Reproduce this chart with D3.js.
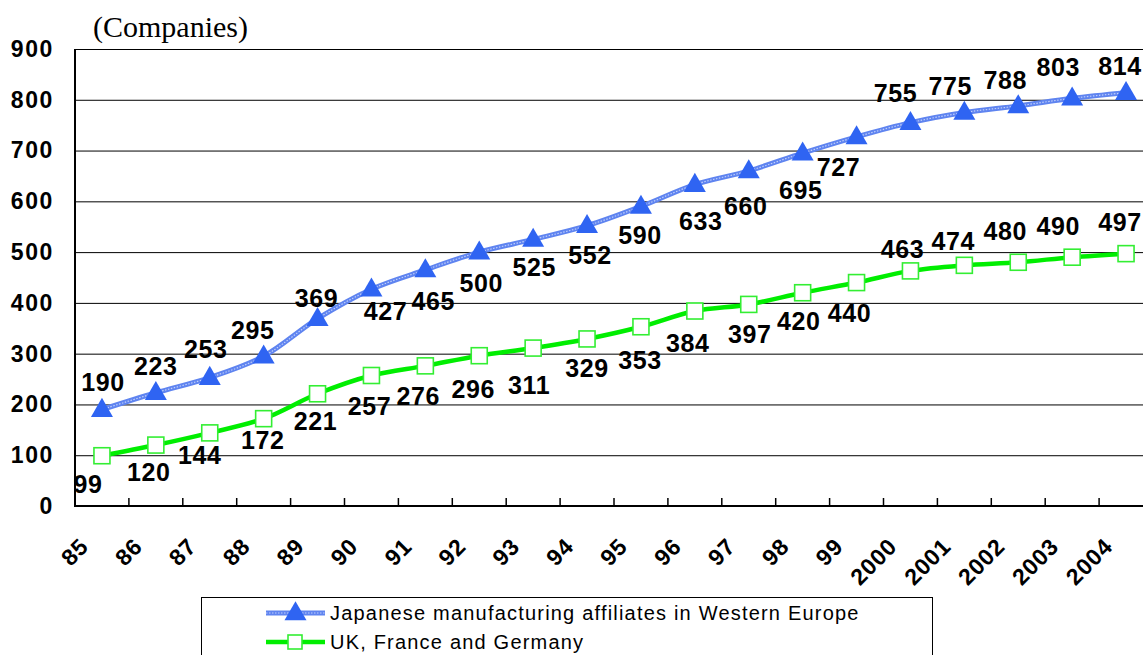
<!DOCTYPE html>
<html>
<head>
<meta charset="utf-8">
<script src="https://cdn.jsdelivr.net/npm/d3@7"></script>
<style>
  body { margin: 0; background: #fff; }
  svg { display: block; }
</style>
</head>
<body>
<div id="vis"></div>
<script>
const width = 1143;
const height = 655;

// data
const years = [1985, 1986, 1987, 1988, 1989, 1990, 1991, 1992, 1993, 1994,
  1995, 1996, 1997, 1998, 1999, 2000, 2001, 2002, 2003, 2004];
const tickLabels = ["85", "86", "87", "88", "89", "90", "91", "92", "93", "94",
  "95", "96", "97", "98", "99", "2000", "2001", "2002", "2003", "2004"];
const westernEurope = [190, 223, 253, 295, 369, 427, 465, 500, 525, 552,
  590, 633, 660, 695, 727, 755, 775, 788, 803, 814];
const ukFranceGermany = [99, 120, 144, 172, 221, 257, 276, 296, 311, 329,
  353, 384, 397, 420, 440, 463, 474, 480, 490, 497];
const yTicks = [0, 100, 200, 300, 400, 500, 600, 700, 800, 900];
const seriesNames = ["Japanese manufacturing affiliates in Western Europe", "UK, France and Germany"];

// where each value label sits relative to its point (layout only)
const blueLabelOffset = [[1,-28],[0,-27],[-4,-29],[-11,-26],[-1,-21],[14,22],[8,31],[2,31],[1,28],[3,29],
  [-1,29],[6,36],[-3,35],[-2,37],[-18,30],[-15,-30],[-14,-26],[-13,-26],[-14,-31],[-6,-27]];
const greenLabelOffset = [[-14,28],[-7,27],[-10,22],[-1,21],[-2,27],[-2,30],[-7,30],[-6,33],[-4,37],[0,29],
  [-1,33],[-7,32],[1,30],[-4,28],[-7,30],[-8,-22],[-11,-24],[-13,-31],[-14,-31],[-6,-32]];

const plot = { left: 75, right: 1153, top: 49, bottom: 506 };

const x = d3.scaleBand().domain(years).range([plot.left, plot.right]).padding(0);
const y = d3.scaleLinear().domain([0, 900]).range([plot.bottom, plot.top]);
const cx = d => x(d) + x.bandwidth() / 2;

const svg = d3.select("#vis").append("svg")
  .attr("width", width)
  .attr("height", height);

// gridlines
svg.append("g")
  .attr("transform", "translate(" + plot.left + ",0)")
  .call(d3.axisLeft(y).tickValues(yTicks).tickSize(-(plot.right - plot.left)).tickFormat(""))
  .call(g => g.select(".domain").remove())
  .call(g => g.selectAll("line").attr("stroke", "#000").attr("stroke-width", 1));

// y axis labels
svg.append("g")
  .attr("transform", "translate(" + plot.left + ",0)")
  .call(d3.axisLeft(y).tickValues(yTicks).tickSize(0).tickPadding(21))
  .call(g => g.select(".domain").remove())
  .call(g => g.selectAll("text")
    .attr("font-family", "'Liberation Sans', Arial, sans-serif")
    .attr("font-weight", "bold")
    .attr("font-size", 23)
    .attr("letter-spacing", 1.6)
    .attr("fill", "#000"));

// axis lines
svg.append("line")
  .attr("x1", plot.left).attr("x2", plot.left)
  .attr("y1", plot.top).attr("y2", plot.bottom + 1)
  .attr("stroke", "#000").attr("stroke-width", 2);
svg.append("line")
  .attr("x1", plot.left).attr("x2", plot.right)
  .attr("y1", plot.bottom).attr("y2", plot.bottom)
  .attr("stroke", "#000").attr("stroke-width", 2);

// inward category ticks
svg.append("g").selectAll("line")
  .data(years.slice(1))
  .enter().append("line")
  .attr("x1", d => x(d)).attr("x2", d => x(d))
  .attr("y1", plot.bottom).attr("y2", plot.bottom - 8)
  .attr("stroke", "#000").attr("stroke-width", 1.5);

// x labels
svg.append("g")
  .attr("transform", "translate(0," + plot.bottom + ")")
  .call(d3.axisBottom(x).tickSize(0).tickFormat((d, i) => tickLabels[i]))
  .call(g => g.select(".domain").remove())
  .call(g => g.selectAll(".tick text")
    .attr("font-family", "'Liberation Sans', Arial, sans-serif")
    .attr("font-weight", "bold")
    .attr("font-size", 23)
    .attr("letter-spacing", 0.8)
    .attr("fill", "#000")
    .attr("text-anchor", "end")
    .attr("y", 0).attr("dy", 0)
    .attr("transform", "translate(-12,42) rotate(-45)"));

const line = d3.line()
  .x((d, i) => cx(years[i]))
  .y(d => y(d))
  .curve(d3.curveCatmullRom.alpha(0.5));

// blue series
svg.append("path")
  .datum(westernEurope)
  .attr("d", line)
  .attr("fill", "none")
  .attr("stroke", "#5f84f0")
  .attr("stroke-width", 5);
svg.append("path")
  .datum(westernEurope)
  .attr("d", line)
  .attr("fill", "none")
  .attr("stroke", "#dfe7ff")
  .attr("stroke-opacity", 0.75)
  .attr("stroke-width", 1.2)
  .attr("stroke-dasharray", "1.5,1.5");

const tri = d3.symbol().type(d3.symbolTriangle).size(210);
svg.append("g").selectAll("path")
  .data(westernEurope)
  .enter().append("path")
  .attr("d", tri)
  .attr("transform", (d, i) => "translate(" + cx(years[i]) + "," + (y(d) + 1) + ")")
  .attr("fill", "#2f64f2");

// green series
svg.append("path")
  .datum(ukFranceGermany)
  .attr("d", line)
  .attr("fill", "none")
  .attr("stroke", "#00ee00")
  .attr("stroke-width", 4.5);

svg.append("g").selectAll("rect")
  .data(ukFranceGermany)
  .enter().append("rect")
  .attr("x", (d, i) => cx(years[i]) - 8)
  .attr("y", d => y(d) - 8)
  .attr("width", 16).attr("height", 16)
  .attr("fill", "#fff")
  .attr("stroke", "#33ee33")
  .attr("stroke-width", 1.6);

// value labels
const labelFont = sel => sel
  .attr("font-family", "'Liberation Sans', Arial, sans-serif")
  .attr("font-weight", "bold")
  .attr("font-size", 25)
  .attr("letter-spacing", 0.6)
  .attr("fill", "#000")
  .attr("text-anchor", "middle")
  .attr("dy", "0.36em");

svg.append("g").selectAll("text")
  .data(westernEurope)
  .enter().append("text")
  .attr("x", (d, i) => cx(years[i]) + blueLabelOffset[i][0])
  .attr("y", (d, i) => y(d) + blueLabelOffset[i][1])
  .text(d => d)
  .call(labelFont);

svg.append("g").selectAll("text")
  .data(ukFranceGermany)
  .enter().append("text")
  .attr("x", (d, i) => cx(years[i]) + greenLabelOffset[i][0])
  .attr("y", (d, i) => y(d) + greenLabelOffset[i][1])
  .text(d => d)
  .call(labelFont);

// unit
svg.append("text")
  .attr("x", 93).attr("y", 37)
  .attr("font-family", "'Liberation Serif', 'Times New Roman', serif")
  .attr("font-size", 30)
  .attr("fill", "#000")
  .text("(Companies)");

// legend
const legend = svg.append("g");
legend.append("rect")
  .attr("x", 201.5).attr("y", 597.5)
  .attr("width", 731).attr("height", 80)
  .attr("fill", "#fff")
  .attr("stroke", "#000").attr("stroke-width", 1);

const rowY = [613, 642];
legend.append("line")
  .attr("x1", 266).attr("x2", 325).attr("y1", rowY[0]).attr("y2", rowY[0])
  .attr("stroke", "#5f84f0").attr("stroke-width", 5);
legend.append("line")
  .attr("x1", 266).attr("x2", 325).attr("y1", rowY[0]).attr("y2", rowY[0])
  .attr("stroke", "#dfe7ff").attr("stroke-opacity", 0.75).attr("stroke-width", 1.2)
  .attr("stroke-dasharray", "1.5,1.5");
legend.append("path")
  .attr("d", tri)
  .attr("transform", "translate(295.5," + (rowY[0] + 1) + ")")
  .attr("fill", "#2f64f2");

legend.append("line")
  .attr("x1", 266).attr("x2", 325).attr("y1", rowY[1]).attr("y2", rowY[1])
  .attr("stroke", "#00ee00").attr("stroke-width", 4.5);
legend.append("rect")
  .attr("x", 288).attr("y", rowY[1] - 7)
  .attr("width", 14).attr("height", 14)
  .attr("fill", "#fff").attr("stroke", "#33ee33").attr("stroke-width", 1.6);

legend.selectAll("text.name")
  .data(seriesNames)
  .enter().append("text")
  .attr("class", "name")
  .attr("x", 330)
  .attr("y", (d, i) => rowY[i] + 7)
  .attr("font-family", "'Liberation Sans', Arial, sans-serif")
  .attr("font-size", 20)
  .attr("letter-spacing", 1.2)
  .attr("fill", "#000")
  .text(d => d);
</script>
</body>
</html>
